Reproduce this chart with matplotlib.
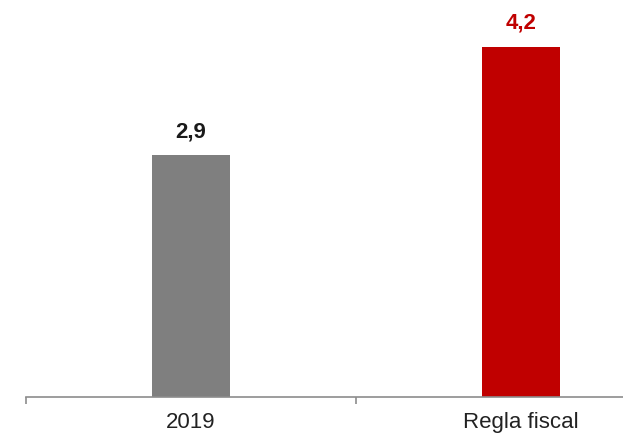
import matplotlib.pyplot as plt

categories = ["2019", "Regla fiscal"]
values = [2.9, 4.2]
value_labels = ["2,9", "4,2"]
bar_colors = ["#7f7f7f", "#c00000"]
label_colors = ["#1a1a1a", "#c00000"]

plt.rcParams['font.family'] = ['Liberation Sans', 'DejaVu Sans']

fig = plt.figure(figsize=(6.23, 4.36), dpi=100)
# axes is wider than the figure: the original chart is cropped on the right
ax = fig.add_axes([26 / 623, 39 / 436, 660 / 623, 392 / 436])

x = range(len(categories))
ax.bar(x, values, width=0.236, color=bar_colors)

for i, v in enumerate(values):
    ax.annotate(value_labels[i], (i, v), xytext=(0, 17), textcoords="offset points",
                ha="center", va="center", fontsize=16, fontweight="bold",
                color=label_colors[i])

ax.set_xlim(-0.5, 1.5)
ax.set_ylim(0, 4.7)

for s in ["top", "right", "left"]:
    ax.spines[s].set_visible(False)
ax.spines["bottom"].set_color("#8c8c8c")
ax.spines["bottom"].set_linewidth(1.2)

ax.set_yticks([])
ax.set_xticks(list(x))
ax.set_xticklabels(categories, fontsize=16, color="#222222")
ax.tick_params(axis="x", which="major", length=0, pad=11)
ax.set_xticks([-0.5, 0.5, 1.5], minor=True)
ax.tick_params(axis="x", which="minor", length=5, width=1.2, color="#8c8c8c", direction="out")

fig.savefig("out.png", dpi=100)
